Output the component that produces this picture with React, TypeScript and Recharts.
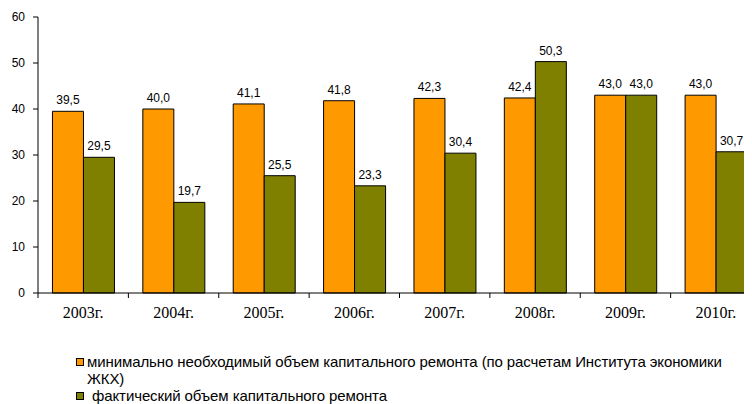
import React from "react";
import { BarChart, Bar, XAxis, YAxis, LabelList, Legend } from "recharts";

const categories = ["2003г.", "2004г.", "2005г.", "2006г.", "2007г.", "2008г.", "2009г.", "2010г."];
const minimalValues = [39.5, 40.0, 41.1, 41.8, 42.3, 42.4, 43.0, 43.0];
const actualValues = [29.5, 19.7, 25.5, 23.3, 30.4, 50.3, 43.0, 30.7];
const yTicks = [0, 10, 20, 30, 40, 50, 60];
const seriesNames = [
  "минимально необходимый объем капитального ремонта (по расчетам Института экономики ЖКХ)",
  "фактический объем капитального ремонта",
];

const ORANGE = "#FF9900";
const OLIVE = "#808000";

const data = categories.map((c, i) => ({
  name: c,
  minimal: minimalValues[i],
  actual: actualValues[i],
}));

const fmt = (v: any) => Number(v).toFixed(1).replace(".", ",");

const XTick = (props: any) => {
  const { x, y, payload } = props;
  const off = payload && payload.offset ? payload.offset : 0;
  return (
    <g>
      <line x1={x - off} x2={x - off} y1={y} y2={y + 5} stroke="#000" strokeWidth={1} />
      <text
        x={x}
        y={y + 25}
        textAnchor="middle"
        fontFamily="'Liberation Serif', 'Times New Roman', serif"
        fontSize={16}
        fill="#000"
      >
        {payload.value}
      </text>
    </g>
  );
};

const LegendContent = () => (
  <div
    style={{
      height: 59,
      boxSizing: "border-box",
      paddingTop: 8,
      paddingLeft: 68,
      fontFamily: "'Liberation Sans', Arial, sans-serif",
      fontSize: 15,
      letterSpacing: "-0.1px",
      lineHeight: "17px",
      color: "#000",
      width: 744,
      overflow: "hidden",
    }}
  >
    <div style={{ display: "flex", alignItems: "flex-start", width: 676 }}>
      <span
        style={{
          display: "inline-block",
          width: 6,
          height: 6,
          background: ORANGE,
          border: "1px solid #000",
          marginTop: 5,
          marginRight: 3,
          flex: "none",
        }}
      />
      <span>{seriesNames[0]}</span>
    </div>
    <div style={{ display: "flex", alignItems: "flex-start" }}>
      <span
        style={{
          display: "inline-block",
          width: 6,
          height: 6,
          background: OLIVE,
          border: "1px solid #000",
          marginTop: 5,
          marginRight: 8,
          flex: "none",
        }}
      />
      <span>{seriesNames[1]}</span>
    </div>
  </div>
);

export default function App() {
  return (
    <div style={{ width: 744, height: 396, overflow: "hidden", background: "#fff" }}>
      <BarChart
        width={760}
        height={396}
        data={data}
        margin={{ top: 9, right: 7, bottom: 0, left: 0 }}
        barCategoryGap="16%"
        barGap={0}
      >
        <XAxis
          dataKey="name"
          height={52}
          tickLine={false}
          tickSize={0}
          tickMargin={0}
          axisLine={{ stroke: "#000" }}
          tick={<XTick />}
          interval={0}
        />
        <YAxis
          width={30}
          domain={[0, 60]}
          ticks={yTicks}
          tickSize={5}
          tickMargin={8}
          axisLine={{ stroke: "#000" }}
          tickLine={{ stroke: "#000" }}
          tick={{ fill: "#000", fontSize: 12, fontFamily: "'Liberation Sans', Arial, sans-serif" }}
          interval={0}
        />
        <Legend verticalAlign="bottom" content={<LegendContent />} wrapperStyle={{ left: 0, width: 744 }} />
        <Bar dataKey="minimal" name={seriesNames[0]} fill={ORANGE} stroke="#000" strokeWidth={1} isAnimationActive={false}>
          <LabelList
            dataKey="minimal"
            position="top"
            offset={7}
            formatter={fmt}
            style={{ fill: "#000", fontSize: 12, fontFamily: "'Liberation Sans', Arial, sans-serif" }}
          />
        </Bar>
        <Bar dataKey="actual" name={seriesNames[1]} fill={OLIVE} stroke="#000" strokeWidth={1} isAnimationActive={false}>
          <LabelList
            dataKey="actual"
            position="top"
            offset={7}
            formatter={fmt}
            style={{ fill: "#000", fontSize: 12, fontFamily: "'Liberation Sans', Arial, sans-serif" }}
          />
        </Bar>
      </BarChart>
    </div>
  );
}
